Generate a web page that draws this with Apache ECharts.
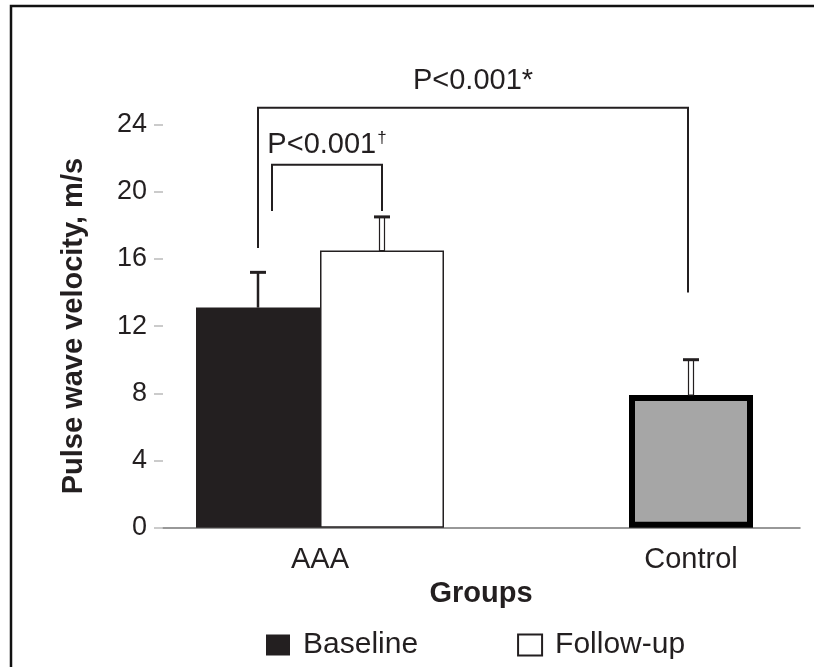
<!DOCTYPE html>
<html>
<head>
<meta charset="utf-8">
<title>Pulse wave velocity</title>
<script src="https://cdn.jsdelivr.net/npm/echarts@6/dist/echarts.min.js"></script>
<style>
	html, body { margin: 0; padding: 0; background: #fff; }
	#pwvChart { width: 814px; height: 667px; }
</style>
</head>
<body>
<div id="pwvChart"></div>
<script>
// values (m/s)
var categories = ['AAA', 'Control'];
var baseline = [13.1, '-'];
var followUp = [16.5, '-'];
var control = ['-', 7.9];
var baselineSD = [2.1, '-'];
var followUpSD = [2.0, '-'];
var controlSD = ['-', 2.1];
var yTicks = [0, 4, 8, 12, 16, 20, 24];

// significance brackets: top of bracket, left / right foot, label
var bracketTop = [25.0, 21.6];
var bracketLeftFoot = [16.65, 18.85];
var bracketRightFoot = [14.0, 18.85];
var bracketLabelY = [26.6, 22.8];
var bracketText = ['P<0.001*', 'P<0.001'];
var bracketMark = ['', '†'];

var FONT = '"Liberation Sans", Arial, sans-serif';
var INK = '#231f20';
var BAR_W = 124;

// which bar each bracket foot sits on: [category, slot, pixel nudge]
var bracketFrom = [[0, 0, 0], [0, 0, 14]];
var bracketTo = [[1, 1, -3], [0, 1, 0]];

function slotX(api, cat, slot) {
	return api.coord([cat, 0])[0] + (slot - 0.5) * BAR_W;
}

// rows for the error bar series: category, mean, sd, slot, hollow
var errRows = [
	[0, baseline[0], baselineSD[0], 0, 0],
	[0, followUp[0], followUpSD[0], 1, 1],
	[1, control[1], controlSD[1], 1, 1]
];

function renderError(params, api) {
	var cat = api.value(0), m = api.value(1), sd = api.value(2);
	var slot = api.value(3), hollow = api.value(4);
	var x = slotX(api, cat, slot);
	var y0 = api.coord([cat, m])[1];
	var y1 = api.coord([cat, m + sd])[1];
	var cap = {
		type: 'line',
		shape: { x1: x - 8, y1: y1, x2: x + 8, y2: y1 },
		style: { stroke: INK, lineWidth: 3 }
	};
	var stem;
	if (hollow) {
		stem = {
			type: 'rect',
			shape: { x: x - 2.5, y: y1, width: 5, height: y0 - y1 },
			style: { fill: '#fff', stroke: INK, lineWidth: 1.2 }
		};
	} else {
		stem = {
			type: 'line',
			shape: { x1: x, y1: y0, x2: x, y2: y1 },
			style: { stroke: INK, lineWidth: 2.5 }
		};
	}
	return { type: 'group', children: [stem, cap] };
}

function renderBracket(params, api) {
	var i = params.dataIndex;
	var f = bracketFrom[i], t = bracketTo[i];
	var xl = slotX(api, f[0], f[1]) + f[2];
	var xr = slotX(api, t[0], t[1]) + t[2];
	var yTop = api.coord([0, bracketTop[i]])[1];
	var yl = api.coord([0, bracketLeftFoot[i]])[1];
	var yr = api.coord([0, bracketRightFoot[i]])[1];
	var yText = api.coord([0, bracketLabelY[i]])[1];
	var txt = '{p|' + bracketText[i] + '}';
	if (bracketMark[i]) txt += '{d|' + bracketMark[i] + '}';
	return {
		type: 'group',
		children: [
			{
				type: 'polyline',
				shape: { points: [[xl, yl], [xl, yTop], [xr, yTop], [xr, yr]] },
				style: { stroke: INK, lineWidth: 2, fill: null }
			},
			{
				type: 'text',
				x: (xl + xr) / 2,
				y: yText,
				style: {
					text: txt,
					align: 'center',
					verticalAlign: 'middle',
					rich: {
						p: { fontFamily: FONT, fontSize: 29, fill: INK },
						d: { fontFamily: FONT, fontSize: 17, fill: INK, verticalAlign: 'top', padding: [0, 0, 12, 1] }
					}
				}
			}
		]
	};
}

var chart = echarts.init(document.getElementById('pwvChart'));
var option = {
	backgroundColor: '#fff',
	animation: false,
	textStyle: { fontFamily: FONT },
	grid: [
		{ left: 165.5, right: 30.5, top: 124.5, bottom: 139.3, outerBoundsMode: 'none' },
		{ left: 163, right: 14, top: 124.5, bottom: 139.3, outerBoundsMode: 'none' }
	],
	legend: {
		data: ['Baseline', 'Follow-up'],
		left: 266,
		top: 630,
		padding: 0,
		icon: 'rect',
		itemWidth: 24,
		itemHeight: 21,
		itemGap: 99,
		textStyle: { fontFamily: FONT, fontSize: 30, color: INK, padding: [0, 0, 0, 8] }
	},
	xAxis: [
		{
			type: 'category',
			gridIndex: 0,
			data: categories,
			axisLine: { show: false },
			axisTick: { show: false },
			axisLabel: {
				margin: 18,
				fontFamily: FONT,
				fontSize: 29,
				color: INK,
				formatter: function (v) {
					return v === 'Control' ? '{c|' + v + '}' : v;
				},
				rich: {
					// Control sits in the right-hand slot, so shift its label by half a pair
					c: { fontFamily: FONT, fontSize: 29, color: INK, padding: [0, 0, 0, BAR_W] }
				}
			},
			name: 'Groups',
			nameLocation: 'middle',
			nameGap: 48,
			nameTextStyle: { fontFamily: FONT, fontSize: 29, fontWeight: 'bold', color: INK, padding: [0, 0, 0, 13] }
		},
		{
			type: 'value',
			gridIndex: 1,
			min: 0,
			max: 1,
			axisLine: { show: true, lineStyle: { color: '#777', width: 1.5 } },
			axisTick: { show: false },
			axisLabel: { show: false },
			splitLine: { show: false }
		}
	],
	yAxis: [
		{
			type: 'value',
			gridIndex: 0,
			min: 0,
			max: 24,
			show: false
		},
		{
			type: 'value',
			gridIndex: 1,
			min: yTicks[0],
			max: yTicks[yTicks.length - 1],
			interval: 4,
			axisLine: { show: false },
			axisTick: { show: true, length: 9, lineStyle: { color: '#bbb', width: 1.5 } },
			axisLabel: { margin: 16, fontFamily: FONT, fontSize: 27, color: INK },
			splitLine: { show: false },
			name: 'Pulse wave velocity, m/s',
			nameLocation: 'middle',
			nameGap: 75,
			nameTextStyle: { fontFamily: FONT, fontSize: 29, fontWeight: 'bold', color: INK }
		}
	],
	series: [
		{
			name: 'Baseline',
			type: 'bar',
			xAxisIndex: 0,
			yAxisIndex: 0,
			barWidth: BAR_W,
			barGap: '0%',
			data: baseline,
			itemStyle: { color: INK }
		},
		{
			name: 'Follow-up',
			type: 'bar',
			stack: 'fu',
			xAxisIndex: 0,
			yAxisIndex: 0,
			barWidth: BAR_W,
			barGap: '0%',
			data: followUp,
			itemStyle: { color: '#fff', borderColor: INK, borderWidth: 1.5 }
		},
		{
			name: 'Control',
			type: 'bar',
			stack: 'fu',
			xAxisIndex: 0,
			yAxisIndex: 0,
			barWidth: BAR_W,
			barGap: '0%',
			data: control,
			itemStyle: { color: '#a6a6a6', borderColor: '#000', borderWidth: 6 }
		},
		{
			name: 'SD',
			type: 'custom',
			xAxisIndex: 0,
			yAxisIndex: 0,
			clip: false,
			z: 5,
			data: errRows,
			renderItem: renderError
		},
		{
			name: 'brackets',
			type: 'custom',
			xAxisIndex: 0,
			yAxisIndex: 0,
			clip: false,
			z: 6,
			data: bracketTop.map(function (t, i) { return [i, t]; }),
			renderItem: renderBracket
		}
	],
	graphic: [
		{
			type: 'polyline',
			shape: { points: [[11, 667], [11, 6], [814, 6]] },
			style: { stroke: '#111', lineWidth: 2.5, fill: null },
			silent: true
		}
	]
};
chart.setOption(option);
</script>
</body>
</html>
